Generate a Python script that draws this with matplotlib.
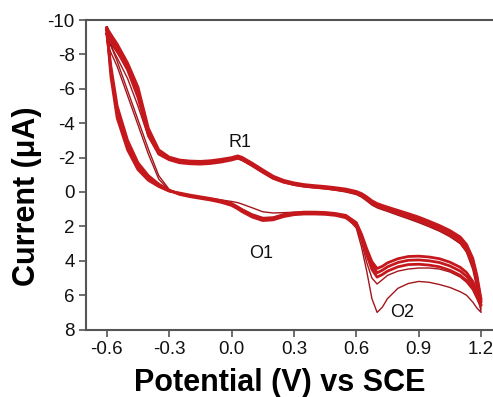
import numpy as np
import matplotlib
matplotlib.use('Agg')
import matplotlib.pyplot as plt

plt.rcParams['font.family'] = ['Liberation Sans', 'DejaVu Sans']
plt.rcParams['axes.unicode_minus'] = False

# potential grid (V vs SCE), shared by every branch
E = [-0.60, -0.58, -0.55, -0.50, -0.45, -0.40, -0.35, -0.30, -0.25, -0.20,
     -0.15, -0.10, -0.05, 0.00, 0.03, 0.05, 0.10, 0.15, 0.20, 0.25,
     0.30, 0.35, 0.40, 0.45, 0.50, 0.55, 0.60, 0.625, 0.65, 0.675,
     0.70, 0.725, 0.75, 0.80, 0.85, 0.90, 0.95, 1.00, 1.05, 1.10,
     1.13, 1.16, 1.18, 1.20]

# currents (uA); fwd = scan towards positive potential, rev = scan back (both listed along E)
cyc1_fwd = [-8.8, -8.1, -7.3, -5.6, -3.9, -2.2, -0.75, -0.1, 0.12, 0.22,
            0.30, 0.38, 0.46, 0.55, 0.62, 0.70, 0.92, 1.15, 1.22, 1.20,
            1.18, 1.18, 1.20, 1.24, 1.30, 1.42, 2.10, 3.20, 4.60, 6.20,
            7.00, 6.70, 6.20, 5.60, 5.32, 5.20, 5.25, 5.38, 5.55, 5.80,
            6.00, 6.40, 6.75, 7.00]
cyc1_rev = [-8.8, -8.5, -7.8, -6.6, -5.0, -3.2, -2.2, -1.85, -1.70, -1.66,
            -1.68, -1.72, -1.80, -1.90, -1.95, -1.85, -1.52, -1.15, -0.80, -0.58,
            -0.44, -0.34, -0.28, -0.22, -0.15, -0.06, 0.08, 0.22, 0.45, 0.70,
            0.86, 0.97, 1.07, 1.28, 1.50, 1.72, 1.98, 2.25, 2.55, 3.00,
            3.50, 4.50, 5.60, 7.00]

cyc2_fwd = [-9.0, -8.5, -7.6, -5.9, -4.2, -2.5, -0.95, -0.15, 0.12, 0.25,
            0.34, 0.43, 0.55, 0.70, 0.86, 0.98, 1.28, 1.48, 1.47, 1.32,
            1.25, 1.22, 1.23, 1.26, 1.32, 1.45, 1.95, 2.90, 4.10, 5.00,
            5.35, 5.10, 4.85, 4.60, 4.48, 4.42, 4.42, 4.48, 4.65, 4.95,
            5.25, 5.70, 6.20, 6.80]
cyc2_rev = [-9.0, -8.6, -8.1, -7.2, -5.9, -3.6, -2.4, -1.92, -1.74, -1.68,
            -1.66, -1.70, -1.78, -1.88, -1.95, -1.85, -1.50, -1.12, -0.78, -0.55,
            -0.40, -0.30, -0.24, -0.18, -0.10, 0.00, 0.15, 0.30, 0.52, 0.76,
            0.92, 1.03, 1.13, 1.35, 1.56, 1.78, 2.02, 2.28, 2.60, 3.00,
            3.45, 4.30, 5.40, 6.80]

cycA_fwd = [-9.4, -7.0, -4.6, -2.7, -1.5, -0.8, -0.38, -0.08, 0.10, 0.22,
            0.32, 0.42, 0.55, 0.72, 0.92, 1.08, 1.40, 1.60, 1.55, 1.36,
            1.26, 1.22, 1.22, 1.24, 1.30, 1.42, 1.85, 2.55, 3.45, 4.25,
            4.70, 4.55, 4.35, 4.10, 3.97, 3.95, 4.00, 4.10, 4.30, 4.60,
            4.90, 5.40, 5.90, 6.40]
cycA_rev = [-9.4, -9.0, -8.4, -7.3, -5.8, -3.5, -2.3, -1.95, -1.78, -1.72,
            -1.70, -1.74, -1.82, -1.93, -2.03, -1.95, -1.60, -1.22, -0.85, -0.62,
            -0.48, -0.38, -0.32, -0.27, -0.20, -0.12, 0.02, 0.15, 0.35, 0.58,
            0.74, 0.85, 0.95, 1.15, 1.35, 1.55, 1.80, 2.05, 2.35, 2.75,
            3.20, 4.00, 5.00, 6.40]

cycB_fwd = [-9.2, -7.3, -5.0, -3.0, -1.7, -0.95, -0.46, -0.10, 0.14, 0.27,
            0.37, 0.47, 0.60, 0.78, 0.98, 1.14, 1.46, 1.66, 1.62, 1.43,
            1.32, 1.28, 1.28, 1.30, 1.36, 1.50, 1.95, 2.70, 3.65, 4.50,
            4.95, 4.80, 4.60, 4.35, 4.22, 4.20, 4.25, 4.35, 4.55, 4.85,
            5.15, 5.60, 6.10, 6.60]
cycB_rev = [-9.2, -8.8, -8.2, -7.1, -5.5, -3.3, -2.2, -1.88, -1.70, -1.64,
            -1.62, -1.66, -1.74, -1.86, -1.96, -1.88, -1.53, -1.15, -0.79, -0.57,
            -0.43, -0.33, -0.27, -0.22, -0.15, -0.06, 0.08, 0.22, 0.43, 0.66,
            0.82, 0.93, 1.03, 1.24, 1.45, 1.66, 1.92, 2.18, 2.50, 2.92,
            3.40, 4.20, 5.20, 6.60]

cycC_fwd = [-9.55, -6.7, -4.3, -2.45, -1.3, -0.68, -0.32, -0.05, 0.06, 0.18,
            0.28, 0.38, 0.50, 0.67, 0.87, 1.03, 1.35, 1.55, 1.50, 1.31,
            1.21, 1.17, 1.17, 1.19, 1.25, 1.36, 1.78, 2.45, 3.30, 4.05,
            4.45, 4.32, 4.12, 3.88, 3.75, 3.73, 3.78, 3.88, 4.08, 4.38,
            4.68, 5.20, 5.72, 6.25]
cycC_rev = [-9.55, -9.15, -8.6, -7.5, -6.1, -3.7, -2.45, -2.03, -1.86, -1.80,
            -1.78, -1.82, -1.90, -2.00, -2.10, -2.02, -1.67, -1.29, -0.92, -0.68,
            -0.53, -0.43, -0.37, -0.32, -0.25, -0.17, -0.03, 0.09, 0.28, 0.51,
            0.67, 0.78, 0.88, 1.07, 1.26, 1.46, 1.70, 1.95, 2.24, 2.62,
            3.05, 3.85, 4.85, 6.25]

x_ticks = [-0.6, -0.3, 0.0, 0.3, 0.6, 0.9, 1.2]
y_ticks = [-10, -8, -6, -4, -2, 0, 2, 4, 6, 8]
peak_labels = ['R1', 'O1', 'O2']
peak_pos = [(0.04, -2.9), (0.14, 3.55), (0.82, 7.0)]


def loop(fwd, rev):
    xs = list(E) + list(E[::-1])
    ys = list(fwd) + list(rev[::-1])
    return xs, ys


fig = plt.figure(figsize=(4.93, 3.97), dpi=100)
ax = fig.add_axes([0.1744, 0.1698, 0.8436, 0.7798])

thin = '#a3161b'
red = '#c5181d'
for f, r in [(cyc1_fwd, cyc1_rev), (cyc2_fwd, cyc2_rev)]:
    xs, ys = loop(f, r)
    ax.plot(xs, ys, color=thin, lw=1.0)
for f, r in [(cycB_fwd, cycB_rev), (cycC_fwd, cycC_rev), (cycA_fwd, cycA_rev)]:
    xs, ys = loop(f, r)
    ax.plot(xs, ys, color=red, lw=2.0, solid_joinstyle='round')

for lab, (px, py) in zip(peak_labels, peak_pos):
    ax.text(px, py, lab, fontsize=13, ha='center', va='center', color='#111111')

ax.set_xlim(-0.7, 1.3)
ax.set_ylim(8, -10)
ax.set_xticks(x_ticks)
ax.set_xticklabels(['%.1f' % v for v in x_ticks])
ax.set_yticks(y_ticks)
ax.set_yticklabels([str(v) for v in y_ticks])
ax.tick_params(direction='out', length=5, width=1.2, color='#555555',
               labelsize=13.5, labelcolor='#111111', pad=3)
for s in ax.spines.values():
    s.set_color('#555555')
    s.set_linewidth(1.5)

ax.set_xlabel('Potential (V) vs SCE', fontsize=22, fontweight='bold')
ax.set_ylabel('Current (\u03bcA)', fontsize=22, fontweight='bold')
ax.xaxis.set_label_coords(0.467, -0.125)
ax.yaxis.set_label_coords(-0.106, 0.431)

plt.savefig('out.png', dpi=100)
plt.close()
